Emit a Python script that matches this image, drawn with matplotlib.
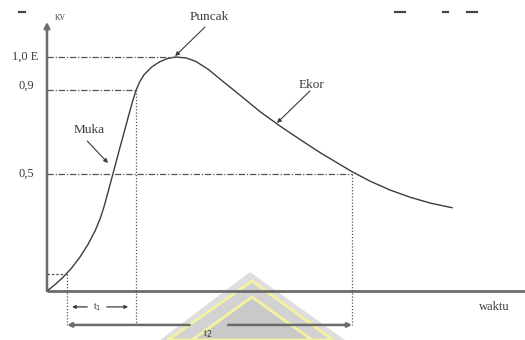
import matplotlib
matplotlib.use("Agg")
import matplotlib.pyplot as plt
from matplotlib.patches import Polygon

plt.rcParams['font.family'] = ['Liberation Serif', 'DejaVu Serif']

# impulse wave (schematic), time vs per-unit voltage
t_wave = [0.00, 0.13, 0.26, 0.41, 0.54, 0.67, 0.79, 0.87, 0.93, 1.00, 1.07,
          1.20, 1.33, 1.40, 1.46, 1.52, 1.59, 1.72, 1.85, 1.98, 2.11, 2.28,
          2.44, 2.64, 2.84, 3.05, 3.28, 3.49, 3.82, 4.15, 4.48, 4.80, 5.00,
          5.30, 5.62, 5.95, 6.28, 6.64]
v_wave = [0.000, 0.027, 0.058, 0.100, 0.145, 0.198, 0.258, 0.308, 0.356,
          0.422, 0.490, 0.617, 0.742, 0.808, 0.858, 0.894, 0.924, 0.958,
          0.980, 0.994, 1.000, 0.996, 0.981, 0.948, 0.905, 0.861, 0.812,
          0.767, 0.705, 0.647, 0.591, 0.541, 0.510, 0.469, 0.432, 0.401,
          0.376, 0.356]

# reference levels and where the wave reaches them
levels = [1.0, 0.86, 0.5]
level_t = [2.11, 1.46, 5.00]
level_labels = ["1,0 E", "0,9", "0,5"]
t_start, v_start = 0.33, 0.073
t_front, t_tail = 1.46, 5.00

fig = plt.figure(figsize=(5.25, 3.4), dpi=100)

# background layer for the faint watermark (pixel coords)
bg = fig.add_axes([0, 0, 1, 1], zorder=0)
bg.set_xlim(0, 525)
bg.set_ylim(340, 0)
bg.axis('off')
bg.add_patch(Polygon([[250, 272], [160, 340], [345, 340]], closed=True,
                     fc='#dedede', ec='none'))
bg.add_patch(Polygon([[252, 281], [168, 340], [333, 340]], closed=True,
                     fc='#d2d2d2', ec='#f4f2a0', lw=2))
bg.add_patch(Polygon([[252, 297], [192, 340], [312, 340]], closed=True,
                     fc='#c9c9c9', ec='#f4f2a0', lw=2))
# remnants of clipped text at the top edge
for x1, x2 in [(19, 25), (395, 405), (443, 448), (467, 477)]:
    bg.plot([x1, x2], [12, 12], color='#444444', lw=1.6)

ax = fig.add_axes([0, 0, 1, 1], zorder=1)
ax.patch.set_alpha(0)
ax.set_xlim(-0.7705, 7.836)
ax.set_ylim(-0.2094, 1.2436)
ax.axis('off')

gray = '#6b6b6b'
dark = '#3c3c3c'

# axes
ax.plot([0, 7.84], [0, 0], color=gray, lw=2.0, solid_capstyle='butt')
ax.annotate('', xy=(0, 1.15), xytext=(0, 0),
            arrowprops=dict(arrowstyle='-|>', color=gray, lw=1.8,
                            mutation_scale=8, shrinkA=0, shrinkB=0))
ax.text(0.21, 1.167, "KV", fontsize=5.5, color=dark, ha='center', va='center')
ax.text(7.34, -0.068, "waktu", fontsize=9, color=dark, ha='center', va='center')

# wave
ax.plot(t_wave, v_wave, color=dark, lw=1.0)

# level lines and labels
for lv, lt in zip(levels, level_t):
    ax.plot([0, lt], [lv, lv], color='#555555', lw=0.9, dashes=(5, 1.5, 1, 1.5))
ax.text(-0.574, 1.0, level_labels[0], fontsize=9, color=dark, va='center')
ax.text(-0.475, 0.876, level_labels[1], fontsize=9, color=dark, va='center')
ax.text(-0.475, 0.5, level_labels[2], fontsize=9, color=dark, va='center')

# start box and vertical markers
ax.plot([0, t_start], [v_start, v_start], color='#555555', lw=0.9, dashes=(2, 1.5))
for tx, top in [(t_start, v_start), (t_front, 0.86), (t_tail, 0.5)]:
    ax.plot([tx, tx], [top, -0.145], color='#555555', lw=0.9, dashes=(1, 1.5))

# t1 arrows
ax.annotate('', xy=(0.41, -0.068), xytext=(0.66, -0.068),
            arrowprops=dict(arrowstyle='-|>', color=dark, lw=0.9,
                            mutation_scale=5, shrinkA=0, shrinkB=0))
ax.annotate('', xy=(1.33, -0.068), xytext=(0.98, -0.068),
            arrowprops=dict(arrowstyle='-|>', color=dark, lw=0.9,
                            mutation_scale=5, shrinkA=0, shrinkB=0))
ax.text(0.82, -0.068, "t$_1$", fontsize=7, color=dark, ha='center', va='center')

# t2 arrows
ax.annotate('', xy=(t_start, -0.145), xytext=(2.34, -0.145),
            arrowprops=dict(arrowstyle='-|>', color=gray, lw=1.8,
                            mutation_scale=6, shrinkA=0, shrinkB=0))
ax.annotate('', xy=(t_tail, -0.145), xytext=(2.97, -0.145),
            arrowprops=dict(arrowstyle='-|>', color=gray, lw=1.8,
                            mutation_scale=6, shrinkA=0, shrinkB=0))
ax.text(2.64, -0.186, "t$_2$", fontsize=8, color=dark, ha='center', va='center')

# callouts
arrow_kw = dict(arrowstyle='-|>', color=dark, lw=0.8, mutation_scale=6,
                shrinkA=0, shrinkB=0)
ax.text(2.66, 1.171, "Puncak", fontsize=9.5, color=dark, ha='center', va='center')
ax.annotate('', xy=(2.10, 1.004), xytext=(2.59, 1.128), arrowprops=arrow_kw)
ax.text(0.69, 0.688, "Muka", fontsize=9.5, color=dark, ha='center', va='center')
ax.annotate('', xy=(1.00, 0.547), xytext=(0.66, 0.641), arrowprops=arrow_kw)
ax.text(4.33, 0.880, "Ekor", fontsize=9.5, color=dark, ha='center', va='center')
ax.annotate('', xy=(3.77, 0.718), xytext=(4.31, 0.855), arrowprops=arrow_kw)

fig.savefig("out.png", dpi=100)
